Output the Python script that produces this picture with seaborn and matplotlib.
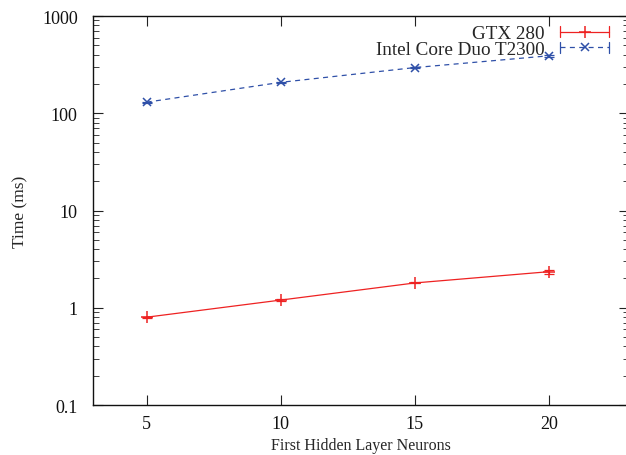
import numpy as np
import pandas as pd
import matplotlib
matplotlib.use("Agg")
import matplotlib.pyplot as plt
from matplotlib.lines import Line2D
from matplotlib.legend_handler import HandlerBase
import seaborn as sns

# values
neurons = [5, 10, 15, 20]
gtx_time = [0.80, 1.20, 1.80, 2.35]
gtx_err = [0.01, 0.02, 0.02, 0.10]
intel_time = [130, 208, 295, 390]
intel_err = [2, 3, 4, 8]
labels = ["GTX 280", "Intel Core Duo T2300"]

df = pd.DataFrame({
    "neurons": neurons * 2,
    "time": gtx_time + intel_time,
    "device": [labels[0]] * 4 + [labels[1]] * 4,
})

sns.set_theme(style="ticks")
plt.rcParams['font.family'] = ['Liberation Serif', 'DejaVu Serif']

red = "#ee2222"
blue = "#2f50a8"
dash = (0, (4, 3.5))


# gnuplot-like key sample: line with end caps and a marker in the middle
class ErrHandler(HandlerBase):
    def __init__(self, color, ls, marker, ms):
        super().__init__()
        self.color, self.ls, self.marker, self.ms = color, ls, marker, ms

    def create_artists(self, legend, orig_handle, xdescent, ydescent,
                       width, height, fontsize, trans):
        y = height / 2 - ydescent
        x0, x1 = -xdescent, -xdescent + width
        h = 4.0
        arts = [
            Line2D([x0, x1], [y, y], color=self.color, ls=self.ls, lw=0.9),
            Line2D([x0, x0], [y - h, y + h], color=self.color, lw=0.9),
            Line2D([x1, x1], [y - h, y + h], color=self.color, lw=0.9),
            Line2D([(x0 + x1) / 2], [y], color=self.color, marker=self.marker,
                   ms=self.ms, mew=1.1, ls="none"),
        ]
        for a in arts:
            a.set_transform(trans)
        return arts


fig, ax = plt.subplots(figsize=(6.26, 4.56), dpi=100)

sns.lineplot(data=df[df.device == labels[0]], x="neurons", y="time", ax=ax,
             color=red, lw=0.9, marker="+", markersize=8, mew=1.1,
             markeredgecolor=red, label=labels[0])
ax.errorbar(neurons, gtx_time, yerr=gtx_err, fmt="none", ecolor=red,
            elinewidth=0.9, capsize=3.5, capthick=0.9)

sns.lineplot(data=df[df.device == labels[1]], x="neurons", y="time", ax=ax,
             color=blue, lw=0.9, marker="x", markersize=5.5, mew=1.1,
             markeredgecolor=blue, linestyle=dash, label=labels[1])
ax.errorbar(neurons, intel_time, yerr=intel_err, fmt="none", ecolor=blue,
            elinewidth=0.9, capsize=3.5, capthick=0.9)

ax.set_yscale("log")
ax.set_ylim(0.1, 1000)
ax.set_xlim(3, 23)
ax.set_xticks([5, 10, 15, 20])
ax.set_yticks([0.1, 1, 10, 100, 1000])
ax.set_yticklabels(["0.1", "1", "10", "100", "1000"])
ax.tick_params(which="both", direction="in", top=True, right=True,
               labelsize=13, colors="#222222", labelcolor="#111111")
ax.tick_params(which="major", length=7, width=0.8)
ax.tick_params(which="minor", length=4, width=0.6)
ax.tick_params(axis="y", which="major", pad=11)
ax.tick_params(axis="x", which="major", pad=7)
for s in ax.spines.values():
    s.set_linewidth(1.0)
    s.set_color("#111111")

ax.set_xlabel("First Hidden Layer Neurons", fontsize=11.5, labelpad=3.5)
ax.set_ylabel("Time (ms)", fontsize=12.5, labelpad=10)

handles, _ = ax.get_legend_handles_labels()
hmap = {handles[0]: ErrHandler(red, "-", "+", 8),
        handles[1]: ErrHandler(blue, dash, "x", 5.5)}
ax.legend(handles, labels, handler_map=hmap, loc="upper right",
          bbox_to_anchor=(609 / 626, 1 - 26 / 456),
          bbox_transform=fig.transFigure, borderpad=0, borderaxespad=0,
          frameon=False, markerfirst=False, fontsize=13.8, handlelength=2.55,
          labelspacing=-0.1, handletextpad=0.8)

fig.subplots_adjust(left=0.1486, right=1.0055, top=0.9627, bottom=0.1096)
fig.savefig("out.png", dpi=100)
